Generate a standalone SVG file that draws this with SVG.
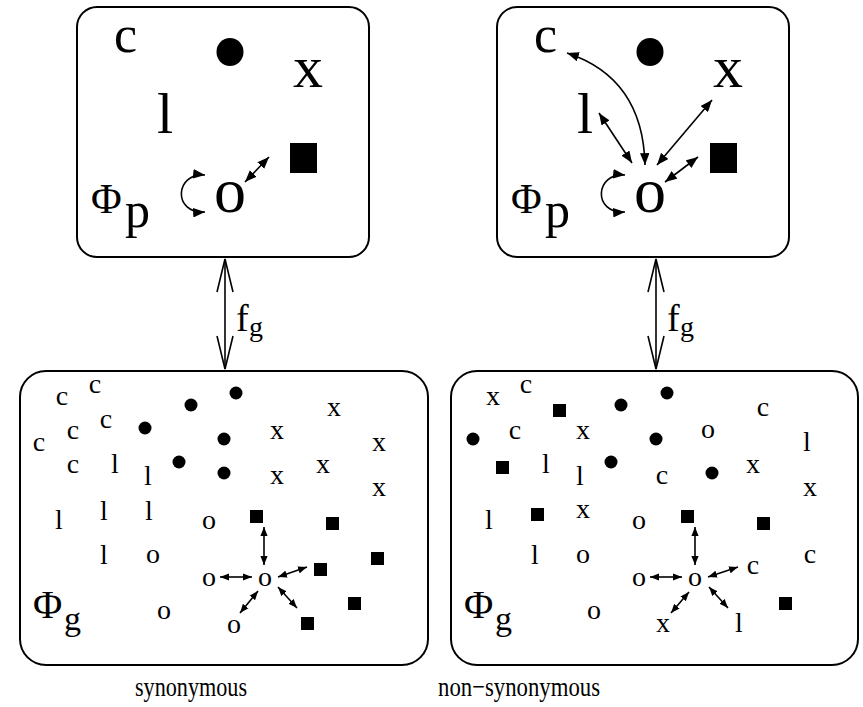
<svg xmlns="http://www.w3.org/2000/svg" width="863" height="707" viewBox="0 0 863 707">
<style>
text{font-family:"Liberation Serif","Times New Roman",serif;fill:#000}
.box{fill:#fff;stroke:#000;stroke-width:2}
.sm{font-size:28px;text-anchor:middle}
.cap{font-size:28px}
.ar{fill:none;stroke:#000;stroke-width:1.6;marker-start:url(#ah);marker-end:url(#ah)}
.ars{fill:none;stroke:#000;stroke-width:1.6;marker-start:url(#ahs);marker-end:url(#ahs)}
.fg{fill:none;stroke:#000;stroke-width:1.6;marker-start:url(#open);marker-end:url(#open)}
</style>
<defs>
<marker id="ah" viewBox="0 0 10 8" refX="10" refY="4" markerWidth="12" markerHeight="9.5" markerUnits="userSpaceOnUse" orient="auto-start-reverse"><path d="M0,0 L10,4 L0,8 z" fill="#000"/></marker>
<marker id="ahs" viewBox="0 0 10 8" refX="10" refY="4" markerWidth="9" markerHeight="7.5" markerUnits="userSpaceOnUse" orient="auto-start-reverse"><path d="M0,0 L10,4 L0,8 z" fill="#000"/></marker>
<marker id="open" viewBox="0 0 36 20" refX="34" refY="10" markerWidth="36" markerHeight="20" markerUnits="userSpaceOnUse" orient="auto-start-reverse"><path d="M1,2 L34,10 L1,18" fill="none" stroke="#000" stroke-width="1.6"/></marker>
</defs>

<g id="phenotype-synonymous">
<rect class="box" x="77" y="7" width="292" height="250" rx="20"/>
<text x="125.5" y="52" font-size="52" text-anchor="middle">c</text>
<ellipse cx="230" cy="52" rx="13.5" ry="14"/>
<text x="308" y="87" font-size="60" text-anchor="middle">x</text>
<text x="165" y="133" font-size="58" text-anchor="middle">l</text>
<rect x="290" y="143" width="27" height="30"/>
<text x="230" y="212" font-size="64" text-anchor="middle">o</text>
<text x="91" y="213" font-size="42">Φ</text>
<text x="125" y="227" font-size="50">p</text>
</g>

<g id="phenotype-nonsynonymous">
<rect class="box" x="497" y="7" width="292" height="250" rx="20"/>
<text x="545.5" y="52" font-size="52" text-anchor="middle">c</text>
<ellipse cx="650" cy="52" rx="13.5" ry="14"/>
<text x="728" y="87" font-size="60" text-anchor="middle">x</text>
<text x="585" y="133" font-size="58" text-anchor="middle">l</text>
<rect x="710" y="143" width="27" height="30"/>
<text x="650" y="212" font-size="64" text-anchor="middle">o</text>
<text x="511" y="213" font-size="42">Φ</text>
<text x="545" y="227" font-size="50">p</text>
</g>

<g id="genotype-synonymous">
<rect class="box" x="20" y="371" width="408" height="294" rx="26"/>
<g class="sm">
<text x="62" y="405">c</text><text x="95" y="393">c</text><text x="106" y="428">c</text>
<text x="73" y="439">c</text><text x="39" y="451">c</text><text x="73" y="473">c</text>
<text x="115" y="473">l</text><text x="148" y="485">l</text><text x="59" y="529">l</text>
<text x="104" y="520">l</text><text x="149" y="520">l</text><text x="104" y="564">l</text>
<text x="334" y="416">x</text><text x="277" y="439">x</text><text x="379" y="451">x</text>
<text x="323" y="473">x</text><text x="277" y="484">x</text><text x="379" y="496">x</text>
<text x="209" y="529">o</text><text x="153" y="563">o</text><text x="209" y="586">o</text>
<text x="265" y="586">o</text><text x="164" y="619">o</text><text x="234" y="633">o</text>
</g>
<circle cx="191" cy="405" r="6.5"/><circle cx="236" cy="393" r="6.5"/><circle cx="145" cy="428" r="6.5"/>
<circle cx="224" cy="439" r="6.5"/><circle cx="179" cy="462" r="6.5"/><circle cx="224" cy="473" r="6.5"/>
<rect x="250" y="510" width="13" height="13"/><rect x="326" y="517" width="13" height="13"/>
<rect x="371" y="552" width="13" height="13"/><rect x="314" y="563" width="13" height="13"/>
<rect x="348" y="597" width="13" height="13"/><rect x="301" y="617" width="13" height="13"/>
<text x="33" y="618" font-size="40">Φ</text>
<text x="64" y="630" font-size="34">g</text>
</g>

<g id="genotype-nonsynonymous">
<rect class="box" x="451" y="371" width="407" height="294" rx="26"/>
<g class="sm">
<text x="493" y="405">x</text><text x="583" y="439">x</text><text x="753" y="473">x</text>
<text x="810" y="496">x</text><text x="583" y="518">x</text><text x="663" y="632">x</text>
<text x="526" y="393">c</text><text x="515" y="439">c</text><text x="763" y="416">c</text>
<text x="662" y="484">c</text><text x="810" y="563">c</text><text x="753" y="574">c</text>
<text x="708" y="438">o</text><text x="639" y="529">o</text><text x="583" y="563">o</text>
<text x="639" y="586">o</text><text x="695" y="586">o</text><text x="594" y="619">o</text>
<text x="807" y="451">l</text><text x="546" y="473">l</text><text x="580" y="485">l</text>
<text x="489" y="529">l</text><text x="535" y="564">l</text><text x="739" y="632">l</text>
</g>
<circle cx="621" cy="405" r="6.5"/><circle cx="667" cy="393" r="6.5"/><circle cx="473" cy="439" r="6.5"/>
<circle cx="656" cy="439" r="6.5"/><circle cx="611" cy="462" r="6.5"/><circle cx="712" cy="473" r="6.5"/>
<rect x="553" y="404" width="13" height="13"/><rect x="496" y="461" width="13" height="13"/>
<rect x="531" y="508" width="13" height="13"/><rect x="681" y="510" width="13" height="13"/>
<rect x="757" y="517" width="13" height="13"/><rect x="779" y="597" width="13" height="13"/>
<text x="464" y="618" font-size="40">Φ</text>
<text x="495" y="630" font-size="34">g</text>
</g>

<g id="connectors">
<path class="ar" d="M205,175 C175,172 172,214 205,212"/>
<line class="ar" x1="245" y1="182" x2="269" y2="157"/>
<path class="ar" d="M625,175 C595,172 592,214 625,212"/>
<line class="ar" x1="665" y1="182" x2="698" y2="157"/>
<path class="ar" d="M567,53 Q643,78 645,165"/>
<line class="ar" x1="599" y1="113" x2="632" y2="163"/>
<line class="ar" x1="712" y1="100" x2="657" y2="165"/>
<line class="fg" x1="225" y1="259" x2="225" y2="369"/>
<line class="fg" x1="656" y1="259" x2="656" y2="369"/>
<line class="ars" x1="264" y1="527" x2="264" y2="565"/>
<line class="ars" x1="220" y1="577" x2="252" y2="577"/>
<line class="ars" x1="278" y1="577" x2="307" y2="567"/>
<line class="ars" x1="258" y1="591" x2="240" y2="613"/>
<line class="ars" x1="278" y1="587" x2="297" y2="608"/>
<line class="ars" x1="695" y1="527" x2="695" y2="565"/>
<line class="ars" x1="650" y1="577" x2="682" y2="577"/>
<line class="ars" x1="708" y1="577" x2="738" y2="567"/>
<line class="ars" x1="689" y1="592" x2="671" y2="613"/>
<line class="ars" x1="709" y1="587" x2="728" y2="608"/>
</g>

<g id="labels">
<text x="236" y="331" font-size="38">f</text>
<text x="249" y="336" font-size="28">g</text>
<text x="667" y="331" font-size="38">f</text>
<text x="680" y="336" font-size="28">g</text>
<text class="cap" x="135" y="696" textLength="112" lengthAdjust="spacingAndGlyphs">synonymous</text>
<text class="cap" x="438" y="696" textLength="162" lengthAdjust="spacingAndGlyphs">non−synonymous</text>
</g>
</svg>
